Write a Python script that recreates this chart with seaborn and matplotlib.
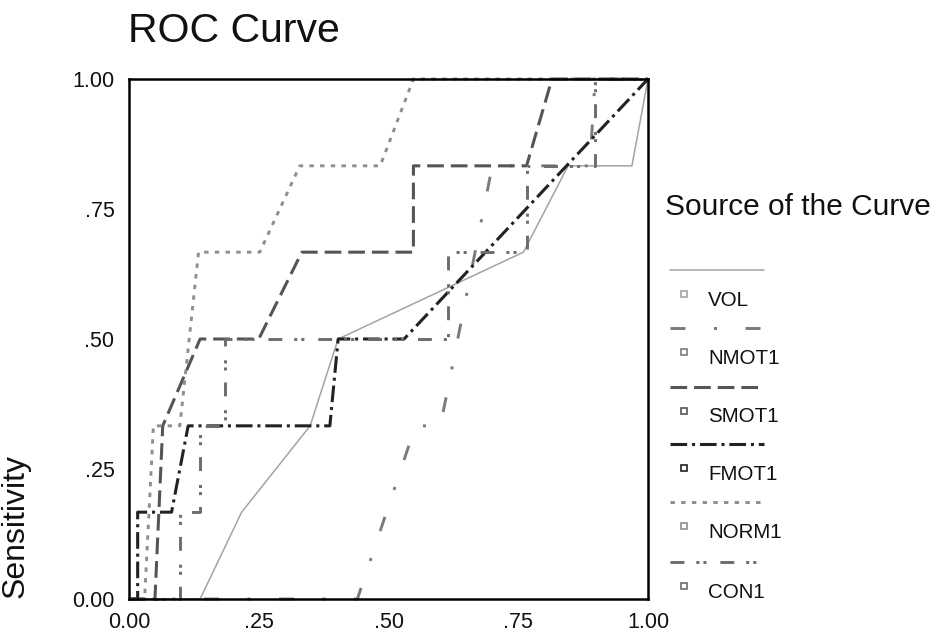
import matplotlib
matplotlib.use("agg")
import matplotlib.pyplot as plt
from matplotlib.lines import Line2D
import pandas as pd
import seaborn as sns

# ROC points (false positive rate, sensitivity)
vol_fpr = [0, 0.137, 0.217, 0.349, 0.403, 0.76, 0.846, 0.969, 1]
vol_tpr = [0, 0, 0.167, 0.333, 0.5, 0.667, 0.833, 0.833, 1]

nmot1_fpr = [0, 0.44, 0.552, 0.60, 0.70, 0.888, 0.898, 1]
nmot1_tpr = [0, 0, 0.333, 0.333, 0.833, 0.833, 1, 1]

smot1_fpr = [0, 0.05, 0.065, 0.137, 0.25, 0.333, 0.548, 0.548, 0.766, 0.815, 1]
smot1_tpr = [0, 0, 0.333, 0.5, 0.5, 0.667, 0.667, 0.833, 0.833, 1, 1]

fmot1_fpr = [0, 0.0167, 0.0167, 0.082, 0.114, 0.387, 0.403, 0.53, 1]
fmot1_tpr = [0, 0, 0.167, 0.167, 0.333, 0.333, 0.5, 0.5, 1]

norm1_fpr = [0, 0.03, 0.047, 0.098, 0.134, 0.252, 0.329, 0.484, 0.548, 1]
norm1_tpr = [0, 0, 0.333, 0.333, 0.667, 0.667, 0.833, 0.833, 1, 1]

con1_fpr = [0, 0.098, 0.098, 0.136, 0.136, 0.185, 0.185, 0.615, 0.615, 0.766, 0.766, 0.898, 0.898, 1]
con1_tpr = [0, 0, 0.167, 0.167, 0.333, 0.333, 0.5, 0.5, 0.667, 0.667, 0.833, 0.833, 1, 1]

sources = ["VOL", "NMOT1", "SMOT1", "FMOT1", "NORM1", "CON1"]
curves = {
    "VOL": (vol_fpr, vol_tpr),
    "NMOT1": (nmot1_fpr, nmot1_tpr),
    "SMOT1": (smot1_fpr, smot1_tpr),
    "FMOT1": (fmot1_fpr, fmot1_tpr),
    "NORM1": (norm1_fpr, norm1_tpr),
    "CON1": (con1_fpr, con1_tpr),
}
tick_vals = [0, 0.25, 0.5, 0.75, 1.0]
tick_labels = ["0.00", ".25", ".50", ".75", "1.00"]

# styles (dash lengths in points)
colors = {"VOL": "#a3a3a3", "NMOT1": "#7b7b7b", "SMOT1": "#555555",
          "FMOT1": "#222222", "NORM1": "#8e8e8e", "CON1": "#6c6c6c"}
widths = {"VOL": 1.1, "NMOT1": 2.1, "SMOT1": 2.2, "FMOT1": 2.2, "NORM1": 2.1, "CON1": 2.1}
styles = {"VOL": "-",
          "NMOT1": (0, (10.8, 20.5, 2.2, 20.5)),
          "SMOT1": (0, (12, 5)),
          "FMOT1": (0, (12, 3.5, 2.2, 3.5)),
          "NORM1": (0, (3.2, 4.5)),
          "CON1": (0, (10, 8.6, 2.2, 2.9, 2.2, 10))}

sns.set_style("white")
plt.rcParams["font.family"] = ["Liberation Sans", "DejaVu Sans"]
plt.rcParams["lines.scale_dashes"] = False

fig = plt.figure(figsize=(9.36, 6.39), dpi=100)
ax = fig.add_axes([129 / 936, 1 - 599 / 639, 519 / 936, 520 / 639])

for name in sources:
    fpr, tpr = curves[name]
    d = pd.DataFrame({"fpr": fpr, "tpr": tpr})
    sns.lineplot(data=d, x="fpr", y="tpr", sort=False, estimator=None, ax=ax,
                 color=colors[name], linewidth=widths[name], linestyle=styles[name],
                 dash_capstyle="butt", solid_capstyle="butt", clip_on=False)

ax.set_xlim(0, 1)
ax.set_ylim(0, 1)
ax.set_xticks(tick_vals)
ax.set_xticklabels(tick_labels)
ax.set_yticks(tick_vals)
ax.set_yticklabels(tick_labels)
ax.set_xlabel("")
ax.set_ylabel("Sensitivity", fontsize=23, color="#111111")
ax.yaxis.set_label_coords(-0.19, 0.14)
ax.tick_params(direction="out", length=4.5, width=4.5, pad=5, labelsize=15.5,
               color="black", labelcolor="#111111")
ax.tick_params(axis="y", pad=6)
for sp in ax.spines.values():
    sp.set_visible(True)
    sp.set_color("black")
    sp.set_linewidth(1.8)

fig.text(128 / 936, 1 - 42 / 639, "ROC Curve", fontsize=29.5, ha="left",
         va="baseline", color="#111111")

# legend, SPSS style: line sample, then square + name below it
fig.text(665 / 936, 1 - 207 / 639, "Source of the Curve", fontsize=21.5,
         ha="left", va="center", color="#111111")
line_y = [270, 328, 387, 444, 502, 562]
for name, ly in zip(sources, line_y):
    fig.add_artist(Line2D([670 / 936, 764 / 936], [1 - ly / 639, 1 - ly / 639],
                          transform=fig.transFigure, color=colors[name],
                          linewidth=widths[name], linestyle=styles[name],
                          dash_capstyle="butt"))
    fig.add_artist(Line2D([684 / 936], [1 - (ly + 24) / 639], transform=fig.transFigure,
                          marker="s", markersize=5, markerfacecolor="white",
                          markeredgecolor=colors[name], markeredgewidth=1.2, linestyle="none"))
    fig.text(708 / 936, 1 - (ly + 30) / 639, name, fontsize=14.8, ha="left",
             va="center", color="#111111")

plt.savefig("out.png", dpi=100)
